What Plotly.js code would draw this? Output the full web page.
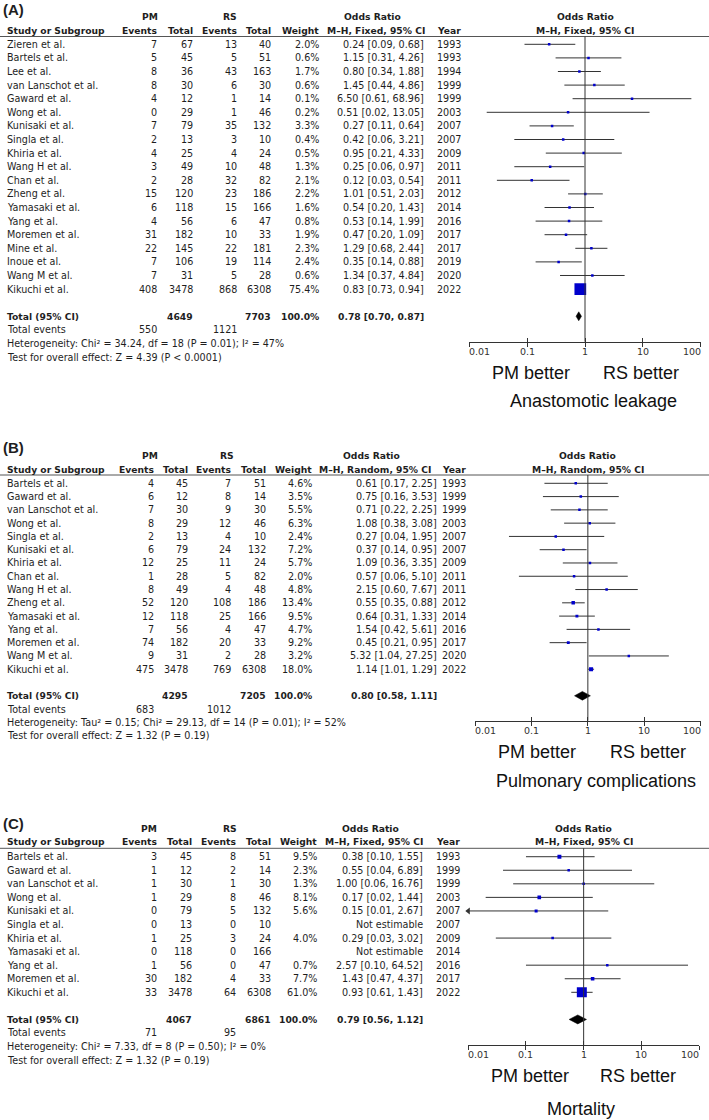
<!DOCTYPE html>
<html><head><meta charset="utf-8">
<script src="https://cdn.plot.ly/plotly-3.0.1.min.js"></script>
<style>html,body{margin:0;padding:0;background:#fff}#chart{width:709px;height:1120px}</style>
</head><body><div id="chart"></div>
<script>
// ---------- DATA ----------
const tickVals = [0.01, 0.1, 1, 10, 100];
const tickText = ['0.01', '0.1', '1', '10', '100'];

// (A) Anastomotic leakage
const studiesA = ["Zieren et al.","Bartels et al.","Lee et al.","van Lanschot et al.","Gaward et al.","Wong et al.","Kunisaki et al.","Singla et al.","Khiria et al.","Wang H et al.","Chan et al.","Zheng et al.","Yamasaki et al.","Yang et al.","Moremen et al.","Mine et al.","Inoue et al.","Wang M et al.","Kikuchi et al."];
const pmEventsA = [7,5,8,8,4,0,7,2,4,3,2,15,6,4,31,22,7,7,408];
const pmTotalA  = [67,45,36,30,12,29,79,13,25,49,28,120,118,56,182,145,106,31,3478];
const rsEventsA = [13,5,43,6,1,1,35,3,4,10,32,23,15,6,10,22,19,5,868];
const rsTotalA  = [40,51,163,30,14,46,132,10,24,48,82,186,166,47,33,181,114,28,6308];
const weightA   = [2.0,0.6,1.7,0.6,0.1,0.2,3.3,0.4,0.5,1.3,2.1,2.2,1.6,0.8,1.9,2.3,2.4,0.6,75.4];
const orA = [0.24,1.15,0.80,1.45,6.50,0.51,0.27,0.42,0.95,0.25,0.12,1.01,0.54,0.53,0.47,1.29,0.35,1.34,0.83];
const loA = [0.09,0.31,0.34,0.44,0.61,0.02,0.11,0.06,0.21,0.06,0.03,0.51,0.20,0.14,0.20,0.68,0.14,0.37,0.73];
const hiA = [0.68,4.26,1.88,4.86,68.96,13.05,0.64,3.21,4.33,0.97,0.54,2.03,1.43,1.99,1.09,2.44,0.88,4.84,0.94];
const yearA = [1993,1993,1994,1999,1999,2003,2007,2007,2009,2011,2011,2012,2014,2016,2017,2017,2019,2020,2022];
const totalA = [4649, 7703];
const totalEventsA = [550, 1121];
const pooledA = [0.78, 0.70, 0.87];
const hetA = "Heterogeneity: Chi² = 34.24, df = 18 (P = 0.01); I² = 47%";
const testA = "Test for overall effect: Z = 4.39 (P &lt; 0.0001)";

// (B) Pulmonary complications
const studiesB = ["Bartels et al.","Gaward et al.","van Lanschot et al.","Wong et al.","Singla et al.","Kunisaki et al.","Khiria et al.","Chan et al.","Wang H et al.","Zheng et al.","Yamasaki et al.","Yang et al.","Moremen et al.","Wang M et al.","Kikuchi et al."];
const pmEventsB = [4,6,7,8,2,6,12,1,8,52,12,7,74,9,475];
const pmTotalB  = [45,12,30,29,13,79,25,28,49,120,118,56,182,31,3478];
const rsEventsB = [7,8,9,12,4,24,11,5,4,108,25,4,20,2,769];
const rsTotalB  = [51,14,30,46,10,132,24,82,48,186,166,47,33,28,6308];
const weightB   = [4.6,3.5,5.5,6.3,2.4,7.2,5.7,2.0,4.8,13.4,9.5,4.7,9.2,3.2,18.0];
const orB = [0.61,0.75,0.71,1.08,0.27,0.37,1.09,0.57,2.15,0.55,0.64,1.54,0.45,5.32,1.14];
const loB = [0.17,0.16,0.22,0.38,0.04,0.14,0.36,0.06,0.60,0.35,0.31,0.42,0.21,1.04,1.01];
const hiB = [2.25,3.53,2.25,3.08,1.95,0.95,3.35,5.10,7.67,0.88,1.33,5.61,0.95,27.25,1.29];
const yearB = [1993,1999,1999,2003,2007,2007,2009,2011,2011,2012,2014,2016,2017,2020,2022];
const totalB = [4295, 7205];
const totalEventsB = [683, 1012];
const pooledB = [0.80, 0.58, 1.11];
const hetB = "Heterogeneity: Tau² = 0.15; Chi² = 29.13, df = 14 (P = 0.01); I² = 52%";
const testB = "Test for overall effect: Z = 1.32 (P = 0.19)";

// (C) Mortality
const studiesC = ["Bartels et al.","Gaward et al.","van Lanschot et al.","Wong et al.","Kunisaki et al.","Singla et al.","Khiria et al.","Yamasaki et al.","Yang et al.","Moremen et al.","Kikuchi et al."];
const pmEventsC = [3,1,1,1,0,0,1,0,1,30,33];
const pmTotalC  = [45,12,30,29,79,13,25,118,56,182,3478];
const rsEventsC = [8,2,1,8,5,0,3,0,0,4,64];
const rsTotalC  = [51,14,30,46,132,10,24,166,47,33,6308];
const weightC   = [9.5,2.3,1.3,8.1,5.6,null,4.0,null,0.7,7.7,61.0];
const orC = [0.38,0.55,1.00,0.17,0.15,null,0.29,null,2.57,1.43,0.93];
const loC = [0.10,0.04,0.06,0.02,0.01,null,0.03,null,0.10,0.47,0.61];
const hiC = [1.55,6.89,16.76,1.44,2.67,null,3.02,null,64.52,4.37,1.43];
const yearC = [1993,1999,1999,2003,2007,2007,2009,2014,2016,2017,2022];
const totalC = [4067, 6861];
const totalEventsC = [71, 95];
const pooledC = [0.79, 0.56, 1.12];
const hetC = "Heterogeneity: Chi² = 7.33, df = 8 (P = 0.50); I² = 0%";
const testC = "Test for overall effect: Z = 1.32 (P = 0.19)";

// ---------- STYLE / LAYOUT ----------
const W = 709, H = 1120;
const FONT = '"DejaVu Sans", Verdana, sans-serif';
const BIG = '"Liberation Sans", Arial, sans-serif';
const TXT = '#1e1e1e';
const LINE = '#333333';
const BLUE = '#0000cc';
const FS = 9.6;
const FSB = 9.2;

const panels = [
  {label:'(A)', method:'M–H, Fixed, 95% CI', outcome:'Anastomotic leakage',
   studies:studiesA, pmE:pmEventsA, pmT:pmTotalA, rsE:rsEventsA, rsT:rsTotalA, w:weightA,
   or:orA, lo:loA, hi:hiA, yr:yearA, tot:totalA, totEv:totalEventsA, pooled:pooledA, het:hetA, test:testA,
   g:{labelY:9.5, topLine:36.5, axisLine:341.7, row0:44.3, pitch:13.6, h1:-2.08, h2:-1.0, xL:469.3, xR:700.7,
      c:{name:7, pmE:157, pmT:193, rsE:237.5, rsT:271, w:318.5, or:424, yr:460.5},
      pmC:150, rsC:230, orC:372, mhR:425, yrH:461, pmB:[530.7,372.7], rsB:[641,372.7], title:[593,400.7], sq:1.35}},
  {label:'(B)', method:'M–H, Random, 95% CI', outcome:'Pulmonary complications',
   studies:studiesB, pmE:pmEventsB, pmT:pmTotalB, rsE:rsEventsB, rsT:rsTotalB, w:weightB,
   or:orB, lo:loB, hi:hiB, yr:yearB, tot:totalB, totEv:totalEventsB, pooled:pooledB, het:hetB, test:testB,
   g:{labelY:447, topLine:475, axisLine:720.7, row0:483.3, pitch:13.28, h1:-2.07, h2:-1.07, xL:475, xR:700.7,
      c:{name:7, pmE:153.5, pmT:188.5, rsE:231, rsT:266, w:312, or:437, yr:465.5},
      pmC:149.7, rsC:227, orC:371, mhR:431, yrH:466, pmB:[537,751.7], rsB:[647.5,751.7], title:[595.5,781], sq:0.95}},
  {label:'(C)', method:'M–H, Fixed, 95% CI', outcome:'Mortality',
   studies:studiesC, pmE:pmEventsC, pmT:pmTotalC, rsE:rsEventsC, rsT:rsTotalC, w:weightC,
   or:orC, lo:loC, hi:hiC, yr:yearC, tot:totalC, totEv:totalEventsC, pooled:pooledC, het:hetC, test:testC,
   g:{labelY:823.3, topLine:848.3, axisLine:1045, row0:856.7, pitch:13.56, h1:-2.10, h2:-1.10, xL:468.3, xR:699,
      c:{name:7, pmE:156.5, pmT:192, rsE:235.5, rsT:270.5, w:316.5, or:423.5, yr:459.5},
      pmC:149, rsC:230, orC:370, mhR:423.5, yrH:460, pmB:[530.3,1076], rsB:[638,1076], title:[581,1109.3], sq:1.28}}
];

const px2x = p => p / W;
const px2y = p => 1 - p / H;
const f2 = v => v.toFixed(2);
const ciText = (o, l, h) => o == null ? 'Not estimable' : `${f2(o)} [${f2(l)}, ${f2(h)}]`;

const traces = [];
const annotations = [];
const shapes = [];
const layout = {
  width: W, height: H, margin: {l:0, r:0, t:0, b:0},
  paper_bgcolor: '#fff', plot_bgcolor: 'rgba(0,0,0,0)', showlegend: false,
  annotations, shapes, hovermode: false
};

// text helper; for a log x axis the annotation position is given in log10 units
function txt(text, xPos, y, yref, anchor, opts) {
  opts = opts || {};
  const bold = text.indexOf('<b>') === 0;
  annotations.push({
    text: text, x: opts.xref ? Math.log10(xPos) : px2x(xPos), xref: opts.xref || 'paper',
    y: y, yref: yref, xanchor: anchor, yanchor: 'middle', showarrow: false,
    borderpad: 0, borderwidth: 0,
    font: {family: opts.family || FONT, size: opts.size || (bold ? FSB : FS), color: opts.color || TXT}
  });
}

panels.forEach((p, i) => {
  const s = i === 0 ? '' : String(i + 1);
  const xa = 'x' + s, ya = 'y' + s;
  const ov = 'x' + (i + 4);
  const g = p.g;
  const n = p.studies.length;
  const rowOf = px => (px - g.row0) / g.pitch;   // pixel -> row units of this panel
  const domTop = g.topLine - 2.6 * g.pitch;
  const domBot = g.row0 + (n + 4.3) * g.pitch;

  layout['yaxis' + s] = {
    domain: [px2y(domBot), px2y(domTop)],
    range: [rowOf(domBot), rowOf(domTop)],
    visible: false, fixedrange: true, anchor: xa
  };
  const baseX = {
    type: 'log', range: [-2, 2], tickvals: tickVals, ticktext: tickText,
    showgrid: false, zeroline: false, fixedrange: true, tickcolor: LINE, tickwidth: 1, ticklen: 4,
    showticklabels: false, anchor: 'free', position: px2y(g.axisLine)
  };
  layout['xaxis' + s] = Object.assign({}, baseX, {
    domain: [px2x(g.xL), px2x(g.xR)], ticks: 'outside',
    showline: true, linecolor: LINE, linewidth: 1
  });
  layout['xaxis' + (i + 4)] = Object.assign({}, baseX, {
    overlaying: xa, ticks: 'inside', showline: false
  });
  traces.push({x: [1], y: [0], xaxis: ov, yaxis: ya, mode: 'markers', marker: {opacity: 0}, hoverinfo: 'skip'});

  // tick labels (end labels kept inside the scale, as in the original)
  tickVals.forEach((v, k) => {
    txt(tickText[k], v, rowOf(g.axisLine + 9.5), ya,
        k === 0 ? 'left' : (k === tickVals.length - 1 ? 'right' : 'center'),
        {xref: xa, size: 9.5, color: '#333'});
  });

  // CI lines + squares
  const lx = [], ly = [];
  const mx = [], my = [], ms = [];
  const ax = [], ay = [];
  for (let r = 0; r < n; r++) {
    if (p.or[r] == null) continue;
    lx.push(Math.max(p.lo[r], tickVals[0]), p.hi[r], null);
    ly.push(r, r, null);
    mx.push(p.or[r]); my.push(r);
    ms.push(Math.max(2.5, g.sq * Math.sqrt(p.w[r])));
    if (p.lo[r] <= tickVals[0]) { ax.push(tickVals[0]); ay.push(r); }
  }
  traces.push({x: lx, y: ly, xaxis: xa, yaxis: ya, mode: 'lines', line: {color: LINE, width: 1}, hoverinfo: 'skip'});
  traces.push({x: mx, y: my, xaxis: xa, yaxis: ya, mode: 'markers',
    marker: {symbol: 'square', size: ms, color: BLUE, opacity: 1, line: {width: 0}}, hoverinfo: 'skip'});
  if (ax.length) traces.push({x: ax, y: ay, xaxis: xa, yaxis: ya, mode: 'markers', cliponaxis: false,
    marker: {symbol: 'triangle-left', size: 6, color: LINE, opacity: 1}, hoverinfo: 'skip'});

  // pooled diamond
  const tr = n + 1;
  const [po, pl, ph] = p.pooled;
  traces.push({x: [pl, po, ph, po, pl], y: [tr, tr - 0.33, tr, tr + 0.33, tr], xaxis: xa, yaxis: ya,
    mode: 'lines', fill: 'toself', fillcolor: '#000', line: {color: '#000', width: 0.5}, hoverinfo: 'skip'});

  // header rule and line of no effect
  shapes.push({type: 'line', xref: 'paper', x0: 0, x1: 1, yref: ya, y0: rowOf(g.topLine), y1: rowOf(g.topLine), line: {color: '#555', width: 1}});
  shapes.push({type: 'line', xref: xa, x0: 1, x1: 1, yref: ya, y0: rowOf(g.topLine), y1: rowOf(g.axisLine), line: {color: LINE, width: 1}});

  // panel label
  annotations.push({text: '<b>' + p.label + '</b>', x: px2x(3), xref: 'paper', y: px2y(g.labelY), yref: 'paper',
    xanchor: 'left', yanchor: 'middle', showarrow: false, borderpad: 0, borderwidth: 0,
    font: {family: BIG, size: 15, color: TXT}});

  // headers
  const c = g.c;
  txt('<b>PM</b>', g.pmC, g.h1, ya, 'center');
  txt('<b>RS</b>', g.rsC, g.h1, ya, 'center');
  txt('<b>Odds Ratio</b>', g.orC, g.h1, ya, 'center');
  txt('<b>Odds Ratio</b>', 1, g.h1, ya, 'center', {xref: xa});
  txt('<b>Study or Subgroup</b>', c.name, g.h2, ya, 'left');
  txt('<b>Events</b>', c.pmE, g.h2, ya, 'right');
  txt('<b>Total</b>', c.pmT, g.h2, ya, 'right');
  txt('<b>Events</b>', c.rsE, g.h2, ya, 'right');
  txt('<b>Total</b>', c.rsT, g.h2, ya, 'right');
  txt('<b>Weight</b>', c.w, g.h2, ya, 'right');
  txt('<b>' + p.method + '</b>', g.mhR, g.h2, ya, 'right');
  txt('<b>Year</b>', g.yrH, g.h2, ya, 'right');
  txt('<b>' + p.method + '</b>', 1, g.h2, ya, 'center', {xref: xa});

  // study rows
  for (let r = 0; r < n; r++) {
    txt(p.studies[r], c.name, r, ya, 'left');
    txt(String(p.pmE[r]), c.pmE, r, ya, 'right');
    txt(String(p.pmT[r]), c.pmT, r, ya, 'right');
    txt(String(p.rsE[r]), c.rsE, r, ya, 'right');
    txt(String(p.rsT[r]), c.rsT, r, ya, 'right');
    if (p.w[r] != null) txt(p.w[r].toFixed(1) + '%', c.w, r, ya, 'right');
    txt(ciText(p.or[r], p.lo[r], p.hi[r]), c.or, r, ya, 'right');
    txt(String(p.yr[r]), c.yr, r, ya, 'right');
  }

  // totals
  txt('<b>Total (95% CI)</b>', c.name, tr, ya, 'left');
  txt('<b>' + p.tot[0] + '</b>', c.pmT, tr, ya, 'right');
  txt('<b>' + p.tot[1] + '</b>', c.rsT, tr, ya, 'right');
  txt('<b>100.0%</b>', c.w, tr, ya, 'right');
  txt('<b>' + ciText(po, pl, ph) + '</b>', c.or, tr, ya, 'right');
  txt('Total events', c.name, tr + 1, ya, 'left');
  txt(String(p.totEv[0]), c.pmE, tr + 1, ya, 'right');
  txt(String(p.totEv[1]), c.rsE, tr + 1, ya, 'right');
  txt(p.het, c.name, tr + 2, ya, 'left');
  txt(p.test, c.name, tr + 3, ya, 'left');

  // direction labels + outcome
  [['PM better', g.pmB], ['RS better', g.rsB], [p.outcome, g.title]].forEach(([t, pos]) => {
    annotations.push({text: t, x: px2x(pos[0]), xref: 'paper', y: px2y(pos[1]), yref: 'paper',
      xanchor: 'center', yanchor: 'middle', showarrow: false, borderpad: 0, borderwidth: 0,
      font: {family: BIG, size: 18, color: '#111'}});
  });
});

Plotly.newPlot('chart', traces, layout, {staticPlot: true, displayModeBar: false});
</script>
</body></html>
